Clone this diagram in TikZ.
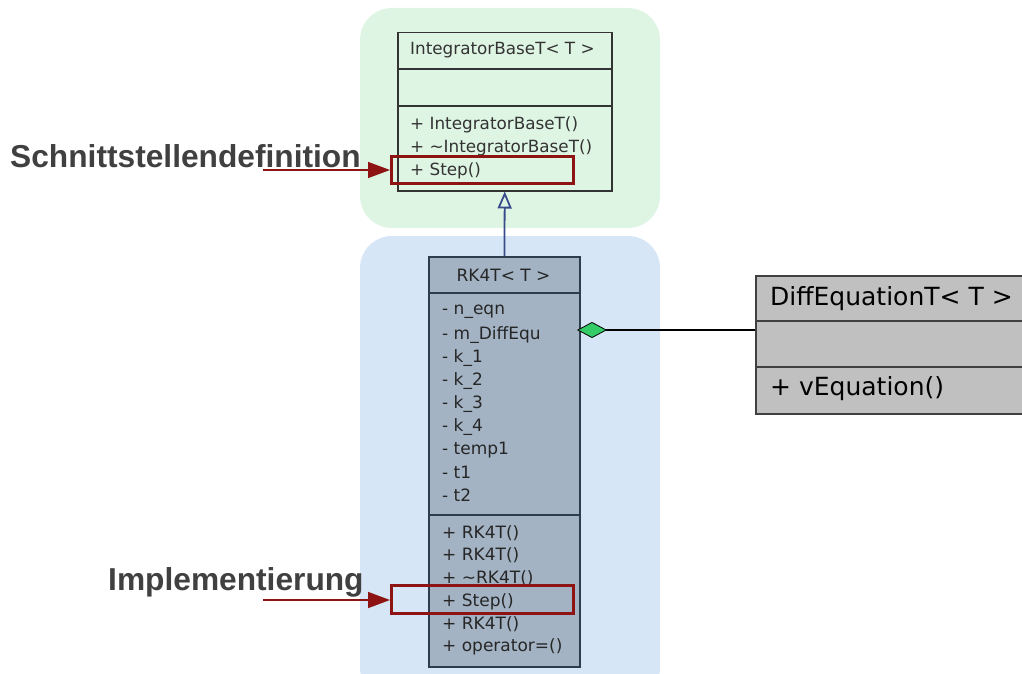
\documentclass[tikz,border=0pt]{standalone}
\usepackage{fontspec}
\setmainfont{DejaVu Sans}
\newfontfamily\labfont{Liberation Sans}
\usetikzlibrary{arrows.meta,calc}
\definecolor{greenbg}{HTML}{DFF5E4}
\definecolor{bluebg}{HTML}{D6E6F6}
\definecolor{rkfill}{HTML}{A3B3C4}
\definecolor{rkline}{HTML}{2E3D4C}
\definecolor{dfill}{HTML}{C0C0C0}
\definecolor{redline}{HTML}{8E1414}
\definecolor{navy}{HTML}{3A4B8C}
\definecolor{labgray}{HTML}{404040}
\definecolor{diagreen}{HTML}{33CC66}
\tikzset{
  boxs/.style={draw, anchor=north west, inner sep=0pt},
  itxt/.style={anchor=west, inner sep=0pt, font=\fontsize{16.8}{18}\selectfont, text=black!80},
  rtxt/.style={anchor=west, inner sep=0pt, font=\fontsize{17}{19}\selectfont, text=black!85},
  dtxt/.style={anchor=west, inner sep=0pt, font=\fontsize{25}{27}\selectfont, text=black},
  hilite/.style={draw=redline, line width=3pt, anchor=north west, inner sep=0pt},
  callout/.style={draw=redline, line width=1.5pt, -{Triangle[length=22pt,width=16pt]}},
  lab/.style={anchor=west, inner sep=0pt, font=\labfont\bfseries\fontsize{31.7}{33}\selectfont, text=labgray},
}
\begin{document}
\begin{tikzpicture}[x=1pt,y=-1pt]
\useasboundingbox (0,0) rectangle (1022,674);
% backgrounds
\fill[greenbg, rounded corners=32pt] (360,8) rectangle (660,228);
\fill[bluebg, rounded corners=32pt] (360,236) rectangle (660,700);
% IntegratorBaseT
\node[boxs, draw=black!80, line width=1.5pt, minimum width=214pt, minimum height=158pt] (ib) at (397,32) {};
\draw[black!80, line width=1.5pt] (397,69) coordinate (ibd1) -- (ibd1 -| ib.east);
\draw[black!80, line width=1.5pt] (397,106) coordinate (ibd2) -- (ibd2 -| ib.east);
\node[itxt] (ibt) at (410,50) {IntegratorBaseT< T >};
\node[itxt] (ibm1) at (410,124.5) {+ IntegratorBaseT()};
\node[itxt] (ibm2) at (410,147.5) {+ \textasciitilde IntegratorBaseT()};
\node[itxt] (ibm3) at (410,170.5) {+ Step()};
% RK4T
\node[boxs, draw=rkline, fill=rkfill, line width=1.8pt, minimum width=151pt, minimum height=410pt] (rk) at (428,256) {};
\draw[rkline, line width=2pt] (428,293) coordinate (rkd1) -- (rkd1 -| rk.east);
\draw[rkline, line width=2pt] (428,515) coordinate (rkd2) -- (rkd2 -| rk.east);
\node[rtxt, anchor=center] (rkt) at (503.5,275) {RK4T< T >};
\node[rtxt] (a1) at (442,312) {- n\_eqn};
\node[rtxt] (a2) at (442,335) {- m\_DiffEqu};
\node[rtxt] (a3) at (442,358) {- k\_1};
\node[rtxt] (a4) at (442,381) {- k\_2};
\node[rtxt] (a5) at (442,404) {- k\_3};
\node[rtxt] (a6) at (442,427) {- k\_4};
\node[rtxt] (a7) at (442,450) {- temp1};
\node[rtxt] (a8) at (442,472) {- t1};
\node[rtxt] (a9) at (442,495) {- t2};
\node[rtxt] (m1) at (442,533) {+ RK4T()};
\node[rtxt] (m2) at (442,555) {+ RK4T()};
\node[rtxt] (m3) at (442,578) {+ \textasciitilde RK4T()};
\node[rtxt] (m4) at (442,601.5) {+ Step()};
\node[rtxt] (m5) at (442,624) {+ RK4T()};
\node[rtxt] (m6) at (442,647) {+ operator=()};
% DiffEquationT
\node[boxs, draw=black!75, fill=dfill, line width=1.8pt, minimum width=280pt, minimum height=138pt] (de) at (755,275) {};
\draw[black!75, line width=1.8pt] (755,321) coordinate (ded1) -- (ded1 -| de.east);
\draw[black!75, line width=1.8pt] (755,367) coordinate (ded2) -- (ded2 -| de.east);
\node[dtxt] (det) at (770,299) {DiffEquationT< T >};
\node[dtxt] (dem) at (770,389) {+ vEquation()};
% inheritance
\draw[navy, line width=1.8pt, -{Triangle[open,length=17pt,width=14pt,fill=greenbg]}] (rk.north) -- (ib.south);
% composition
\coordinate (dia) at (577,330);
\draw[black, line width=2pt, {Diamond[length=30pt,width=16pt,fill=diagreen,line width=0.8pt]}-] (dia) -- (dia -| de.west);
% highlight boxes
\node[hilite, minimum width=182pt, minimum height=27pt] (h1) at (390,155) {};
\node[hilite, minimum width=182pt, minimum height=28pt] (h2) at (390,584) {};
% callouts
\coordinate (c1) at (263,170);
\draw[callout] (c1) -- (c1 -| h1.west);
\coordinate (c2) at (263,600);
\draw[callout] (c2) -- (c2 -| h2.west);
\node[lab] (l1) at (10,156) {Schnittstellendefinition};
\node[lab] (l2) at (108,582) {Implementierung};
\end{tikzpicture}
\end{document}
